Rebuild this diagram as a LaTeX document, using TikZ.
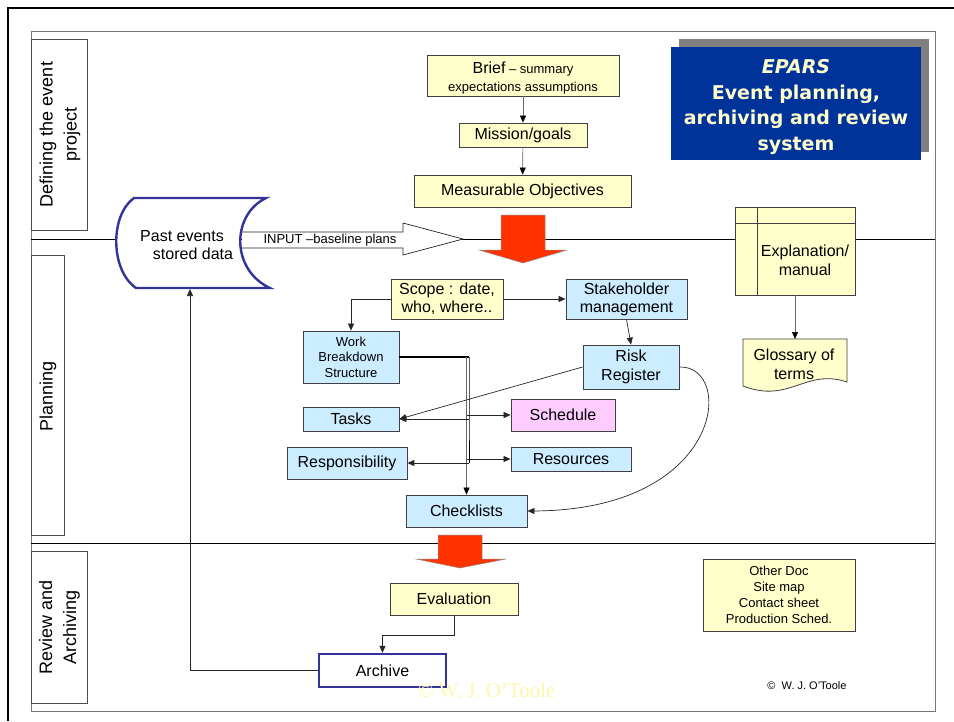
\documentclass[tikz,border=0pt]{standalone}
\usepackage{fontspec}
\setmainfont{Liberation Sans}
\newfontfamily\titlefont{DejaVu Sans}
\newfontfamily\wmfont{Liberation Serif}
\usetikzlibrary{arrows.meta}

\definecolor{boxyellow}{HTML}{FFFFCC}
\definecolor{boxblue}{HTML}{CCECFF}
\definecolor{boxpink}{HTML}{FFCCFF}
\definecolor{epblue}{HTML}{003399}
\definecolor{eptext}{HTML}{FFFFCC}
\definecolor{navyline}{HTML}{333399}
\definecolor{redarrow}{HTML}{FF3300}
\definecolor{framegray}{HTML}{777777}
\definecolor{shadowgray}{HTML}{808080}
\definecolor{wmark}{RGB}{255,246,170}

\newcommand{\fs}[2]{\fontsize{#1}{#2}\selectfont}

\tikzset{
  sz/.style 2 args={minimum width=#1pt, minimum height=#2pt},
  box/.style={draw=black!75, line width=0.8pt, inner sep=0pt, align=center, font=\fs{16}{18}},
  ybox/.style={box, fill=boxyellow},
  bbox/.style={box, fill=boxblue},
  lanebox/.style={draw=black!70, line width=0.8pt, inner sep=0pt},
  lanetext/.style={rotate=90, align=center, font=\fs{18}{24}},
  conn/.style={draw=black!85, line width=0.7pt, -{Triangle[length=7pt,width=6pt]}},
  grayconn/.style={draw=black!60, line width=0.7pt, -{Triangle[length=7pt,width=6pt,color=black]}},
  bigarrow/.style={fill=redarrow, draw=black!45, line width=0.5pt},
  plain/.style={inner sep=0pt, align=center},
}

\begin{document}
\begin{tikzpicture}[x=1pt,y=-1pt]
\useasboundingbox (0,0) rectangle (954,721);

% page frame and swim lanes
\draw[framegray, line width=0.9pt] (31,31) rectangle (935,711);
\draw[line width=2pt] (8,721) -- (8,8) -- (954,8);
\draw[line width=0.9pt] (31,239) -- (935,239);
\draw[line width=0.9pt] (31,543) -- (935,543);

% lane labels
\node[lanebox, sz={56}{191}] (deflane) at (59,134.5) {};
\node[lanetext] (deftext) at (60,134.5) {Defining the event\\project};
\node[lanebox, sz={33}{280}] (planlane) at (47.5,395) {};
\node[lanetext] (plantext) at (48,396) {Planning};
\node[lanebox, sz={56}{152}] (revlane) at (59,627) {};
\node[lanetext] (revtext) at (59.5,627) {Review and\\Archiving};

% title panel with offset shadow
\node[fill=shadowgray, sz={250}{113}, inner sep=0pt] (titleshadow) at (804,95.5) {};
\node[fill=epblue, sz={250}{113}, inner sep=0pt] (title) at (796,103.5) {};
\node[plain, text=eptext, font=\titlefont\bfseries\fs{19}{25.7}] (titletext) at (796,107)
  {\textit{EPARS}\\Event planning,\\archiving and review\\system};

% defining lane
\node[ybox, sz={192}{41}] (brief) at (523,75.5) {};
\node[plain, font=\fs{13}{18}] (brieftext) at (523,78.5)
  {{\fs{16}{18}Brief} – summary\\expectations assumptions};
\node[ybox, sz={128}{24}] (mission) at (523,135) {Mission/goals};
\node[ybox, sz={217}{32}] (objectives) at (522.5,191) {Measurable Objectives};
\draw[grayconn] (brief) -- (mission);
\draw[grayconn] (mission) -- (objectives);

% red transfer arrow into planning
\path[bigarrow] (501,215) -- (545,215) -- (545,250) -- (567,250) -- (523,263)
  -- (479,250) -- (501,250) -- cycle;

% input arrow from stored data
\path[fill=white, draw=black!85, line width=0.7pt] (242,232) -- (403,232) -- (403,223)
  -- (463,239) -- (403,255) -- (403,248) -- (242,248);
\node[plain, font=\fs{13}{15}] (input) at (330,240.5) {INPUT –baseline plans};

% stored data shape
\path[fill=white, draw=navyline, line width=2.4pt] (134,198) -- (266,198)
  .. controls (231,215) and (231,270) .. (270,288) -- (136,288)
  .. controls (110,270) and (110,215) .. (134,198) -- cycle;
\node[plain, font=\fs{16}{18}] (past) at (187.5,245.5)
  {Past events\hspace*{11pt}\\\hspace*{11pt}stored data};
\coordinate (pastbot) at (190,289);

% explanation manual and glossary
\node[ybox, sz={120}{88}] (expl) at (795,251) {};
\draw[black!75, line width=0.8pt] ([xshift=23pt]expl.north west) -- ([xshift=23pt]expl.south west);
\draw[black!75, line width=0.8pt] ([yshift=-17pt]expl.north west) -- ([yshift=-17pt]expl.north east);
\node[plain, font=\fs{16}{19}] (expltext) at (805,260.5) {Explanation/\\manual};
\path[fill=boxyellow, draw=black!75, line width=0.8pt] (743,339) -- (847,339) -- (847,382)
  .. controls (805,368) and (790,404) .. (743,386) -- cycle;
\coordinate (glosstop) at (795,339);
\node[plain, font=\fs{16}{19}] (gloss) at (794,364.5) {Glossary of\\terms};
\draw[grayconn] (expl.south) -- (glosstop);

% planning lane
\node[ybox, sz={112}{40}] (scope) at (447,299) {Scope : date,\\who, where..};
\node[bbox, sz={121}{40}] (stake) at (626.5,299) {Stakeholder\\management};
\node[bbox, sz={96}{52}, font=\fs{13}{15.5}] (wbs) at (351,357) {Work\\Breakdown\\Structure};
\node[bbox, sz={96}{44}, font=\fs{16}{19}] (risk) at (631,367) {Risk\\Register};
\node[bbox, sz={96}{24}] (tasks) at (351,419) {Tasks};
\node[box, fill=boxpink, sz={104}{32}] (schedule) at (563,415) {Schedule};
\node[bbox, sz={120}{32}] (resp) at (347,463) {Responsibility};
\node[bbox, sz={120}{24}] (resources) at (571,459) {Resources};
\node[bbox, sz={121}{32}] (checklists) at (466.5,511) {Checklists};

\draw[conn] (scope) -- (stake);
\draw[conn] (scope.west) -| (wbs.north);
\draw[conn] (stake.south) -- (risk.north);
\draw[conn] (risk.west) -- (tasks.east);
\draw[conn] (risk.east) .. controls (735,365) and (725,510) .. (checklists.east);

% work breakdown distribution trunk
\coordinate (trunk) at (469,357);
\coordinate (trunkg) at (466.5,357);
\draw[black, line width=1.6pt] (wbs.east) -- (trunk);
\draw[black, line width=0.9pt] (trunk) -- (tasks.east -| trunk) -- (resp.east -| trunk);
\draw[grayconn] (trunkg) -- (checklists.north);
\draw[conn] (schedule.west -| trunkg) -- (schedule.west);
\draw[conn] (tasks.east -| trunk) -- (tasks.east);
\draw[conn] (resources.west -| trunkg) -- (resources.west);
\draw[conn, line width=0.9pt] (resp.east -| trunk) -- (resp.east);

% red transfer arrow into review
\path[bigarrow] (438,535) -- (482,535) -- (482,559) -- (506,559) -- (460,568)
  -- (416,559) -- (438,559) -- cycle;

% review lane
\node[ybox, sz={128}{32}] (eval) at (454,599) {Evaluation};
\node[box, fill=white, draw=navyline, line width=2.4pt, sz={127}{33}] (archive) at (382.5,670.5) {Archive};
\node[ybox, sz={152}{72}, font=\fs{13}{16}] (otherdoc) at (779,595)
  {Other Doc\\Site map\\Contact sheet\\Production Sched.};
\draw[conn] (eval.south) -- ++(0,20) -| (archive.north);
\draw[conn] (archive.west) -| (pastbot);

% credits
\node[plain, font=\fs{11}{13}] (credit) at (807,686) {©\ \ W. J. O’Toole};
\node[plain, text=wmark, font=\wmfont\fs{21}{24}] (watermark) at (486.5,690) {© W. J. O’Toole};
\end{tikzpicture}
\end{document}
